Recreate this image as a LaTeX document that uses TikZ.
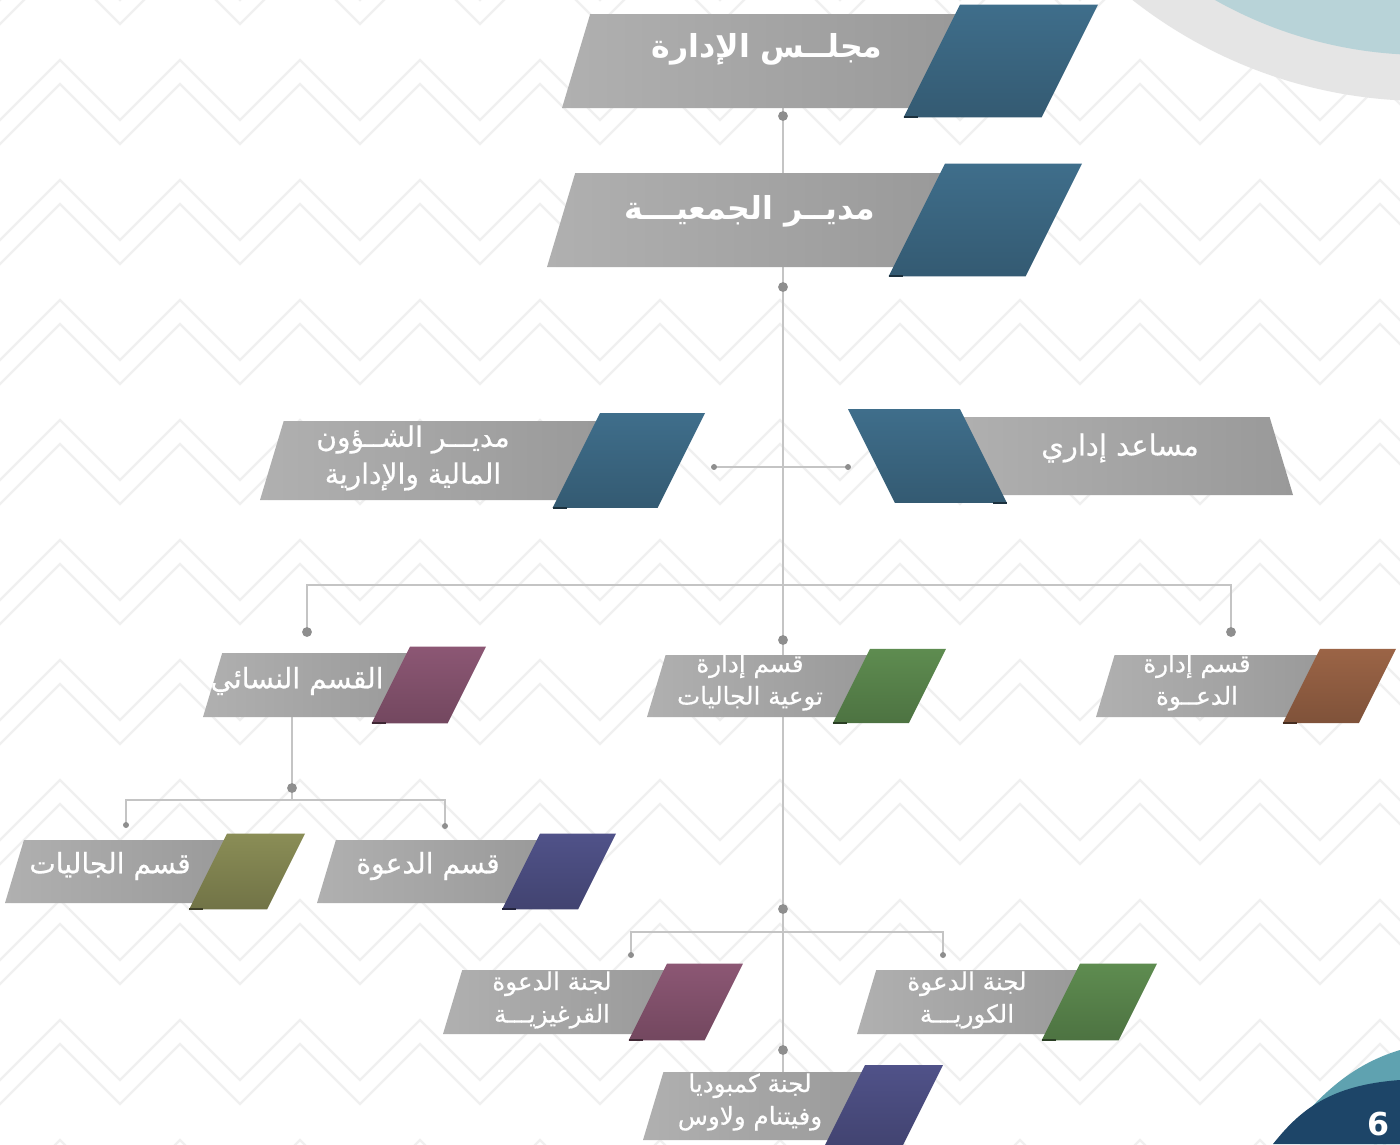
\documentclass[tikz,border=0pt]{standalone}
\usepackage{fontspec}
\usepackage{tikz}
\usetikzlibrary{calc,positioning}
\setmainfont{DejaVu Sans}
\newfontfamily\arabicfont[Script=Arabic, FakeBold=0.5]{DejaVu Sans}
\newfontfamily\arabicbold[Script=Arabic]{DejaVu Sans Bold}
\TeXXeTstate=1
\newcommand{\arline}[1]{\beginR #1\endR}

\definecolor{boxgrayL}{HTML}{B0B0B0}
\definecolor{boxgrayR}{HTML}{999999}
\definecolor{cblue}{HTML}{3F6E8B}
\definecolor{cmauve}{HTML}{8C5774}
\definecolor{cgreen}{HTML}{5E8C50}
\definecolor{cbrown}{HTML}{9B6446}
\definecolor{colive}{HTML}{8A8D56}
\definecolor{cindigo}{HTML}{505289}
\definecolor{linkgray}{HTML}{C4C4C4}
\definecolor{dotgray}{HTML}{8E8E8E}
\definecolor{patgray}{HTML}{F0F0F0}
\definecolor{bandgray}{HTML}{E5E5E5}
\definecolor{pageteal}{HTML}{B8D3D8}
\definecolor{cornerteal}{HTML}{5FA2B0}
\definecolor{pagenavy}{HTML}{1D4568}

\def\grayslant{0.3}
\def\colslant{0.5}
% caixa: [cor](x gris em baixo, y topo, y base)(x topo da cor : largura da cor)
\def\orgbox[#1](#2,#3,#4)(#5:#6){%
	\pgfmathsetmacro\hh{#4-#3}
	\pgfmathsetmacro\oo{0.1*\hh}
	\shade[left color=boxgrayL, right color=boxgrayR]
	(#2,#4) -- ({#2+\grayslant*\hh},#3) -- ({#5+10},#3) -- ({#5+10-\colslant*\hh},#4) -- cycle;
	\shade[top color=#1, bottom color=#1!82!black]
	(#5,{#3-\oo}) -- ({#5+#6},{#3-\oo}) -- ({#5+#6-\colslant*(\hh+2*\oo)},{#4+\oo})
	-- ({#5-\colslant*(\hh+2*\oo)},{#4+\oo}) -- cycle;
	\draw[#1!45!black, line width=1.2pt]
	({#5-\colslant*(\hh+2*\oo)},{#4+\oo}) -- ++(14,0);
}

\begin{document}
\begin{tikzpicture}[x=0.02cm, y=-0.02cm,
	link/.style={draw=linkgray, line width=0.85pt},
	bigdot/.style={fill=dotgray},
	pat/.style={draw=patgray, line width=1.3pt},
	lbl/.style={text=white, inner sep=0pt, align=center}]
	\useasboundingbox (0,0) rectangle (1400,1144);
	\clip (0,0) rectangle (1400,1144);
	
	%%%%%%%%%% fundo %%%%%%%%%%
	\fill[white] (0,0) rectangle (1400,1144);
	\foreach \r in {0,...,10}
	\foreach \k in {0,1}
	\draw[pat] (-60,{\r*120+\k*24-60}) \foreach \i in {0,...,12} { -- ++(60,60) -- ++(60,-60) };
	\fill[bandgray] (1425,-373) circle (474);
	\fill[pageteal] (1425,-373) circle (428);
	\fill[cornerteal] (1300,1120) .. controls (1330,1085) and (1360,1062) .. (1400,1050)
	-- (1400,1144) -- (1300,1144) -- cycle;
	\fill[pagenavy] (1273,1144) .. controls (1300,1110) and (1330,1085) .. (1400,1080)
	-- (1400,1144) -- cycle;
	\node[text=white, font=\bfseries\fontsize{18}{18}\selectfont, inner sep=0pt] (pagenum) at (1378,1124) {6};
	
	%%%%%%%%%% pontos de ligação %%%%%%%%%%
	\coordinate (b1s) at (783,108);
	\coordinate (b2n) at (783,173);
	\coordinate (b2s) at (783,267);
	\coordinate (d1) at (783,116);
	\coordinate (d2) at (783,287);
	\coordinate (ha) at (714,467);
	\coordinate (hb) at (848,467);
	\coordinate (busL) at (307,585);
	\coordinate (busR) at (1231,585);
	\coordinate (d3) at (307,632);
	\coordinate (d4) at (783,640);
	\coordinate (d5) at (1231,632);
	\coordinate (b6n) at (783,655);
	\coordinate (b5s) at (292,717);
	\coordinate (d6) at (292,788);
	\coordinate (bus2M) at (292,800);
	\coordinate (bus2L) at (126,800);
	\coordinate (bus2R) at (445,800);
	\coordinate (d7) at (126,825);
	\coordinate (d8) at (445,826);
	\coordinate (b6s) at (783,717);
	\coordinate (d9) at (783,909);
	\coordinate (bus3L) at (631,932);
	\coordinate (bus3R) at (943,932);
	\coordinate (d10) at (631,955);
	\coordinate (d11) at (943,955);
	\coordinate (d12) at (783,1050);
	\coordinate (b12n) at (783,1072);
	
	%%%%%%%%%% ligações %%%%%%%%%%
	\draw[link] (b1s) -- (b2n);
	\draw[link] (b2s) -- (b6n);
	\draw[link] (ha) -- (hb);
	\draw[link] (d3) -- (busL) -- (busR) -- (d5);
	\draw[link] (b5s) -- (bus2M);
	\draw[link] (d7) -- (bus2L) -- (bus2R) -- (d8);
	\draw[link] (b6s) -- (b12n);
	\draw[link] (d10) -- (bus3L) -- (bus3R) -- (d11);
	
	%%%%%%%%%% caixas %%%%%%%%%%
	\orgbox[cblue](562,14,108)(960:138)
	\orgbox[cblue](547,173,267)(945:137)
	\orgbox[cblue](260,421,500)(600:105)
	\begin{scope}[shift={(2140,0)}, xscale=-1]
		\orgbox[cblue](847,417,495)(1180:112)
	\end{scope}
	\orgbox[cmauve](203,653,717)(410:76)
	\orgbox[cgreen](647,655,717)(870:76)
	\orgbox[cbrown](1096,655,717)(1320:76)
	\orgbox[colive](5,840,903)(227:78)
	\orgbox[cindigo](317,840,903)(540:76)
	\orgbox[cmauve](443,970,1034)(667:76)
	\orgbox[cgreen](857,970,1034)(1080:77)
	\orgbox[cindigo](643,1072,1140)(865:78)
	
	%%%%%%%%%% pontos %%%%%%%%%%
	\foreach \p in {d1,d2,d3,d4,d5,d6,d9,d12}
	\fill[bigdot] (\p) circle (2.8pt);
	\foreach \p in {ha,hb,d7,d8,d10,d11}
	\fill[bigdot] (\p) circle (1.7pt);
	
	%%%%%%%%%% rótulos %%%%%%%%%%
	\node[lbl, font=\arabicbold\fontsize{18}{22}\selectfont] (board) at (767,49) {\arline{مجلــس الإدارة}};
	\node[lbl, font=\arabicbold\fontsize{18}{22}\selectfont] (director) at (750,211) {\arline{مديــر الجمعيـــة}};
	\node[lbl, font=\arabicfont\fontsize{16}{21}\selectfont] (finance) at (413,458) {\arline{مديـــر الشــؤون}\\\arline{المالية والإدارية}};
	\node[lbl, font=\arabicfont\fontsize{16.5}{21}\selectfont] (assistant) at (1120,448) {\arline{مساعد إداري}};
	\node[lbl, font=\arabicfont\fontsize{16}{20}\selectfont] (women) at (297,681) {\arline{القسم النسائي}};
	\node[lbl, font=\arabicfont\fontsize{14}{18.5}\selectfont] (awareness) at (750,682) {\arline{قسم إدارة}\\\arline{توعية الجاليات}};
	\node[lbl, font=\arabicfont\fontsize{14}{18.5}\selectfont] (dawah) at (1197,682) {\arline{قسم إدارة}\\\arline{الدعــوة}};
	\node[lbl, font=\arabicfont\fontsize{16}{20}\selectfont] (communities) at (110,866) {\arline{قسم الجاليات}};
	\node[lbl, font=\arabicfont\fontsize{16}{20}\selectfont] (wdawah) at (428,866) {\arline{قسم الدعوة}};
	\node[lbl, font=\arabicfont\fontsize{14}{18.5}\selectfont] (kyrgyz) at (552,1000) {\arline{لجنة الدعوة}\\\arline{القرغيزيـــة}};
	\node[lbl, font=\arabicfont\fontsize{14}{18.5}\selectfont] (korean) at (967,1000) {\arline{لجنة الدعوة}\\\arline{الكوريـــة}};
	\node[lbl, font=\arabicfont\fontsize{14}{18.5}\selectfont] (cambodia) at (750,1102) {\arline{لجنة كمبوديا}\\\arline{وفيتنام ولاوس}};
\end{tikzpicture}
\end{document}
